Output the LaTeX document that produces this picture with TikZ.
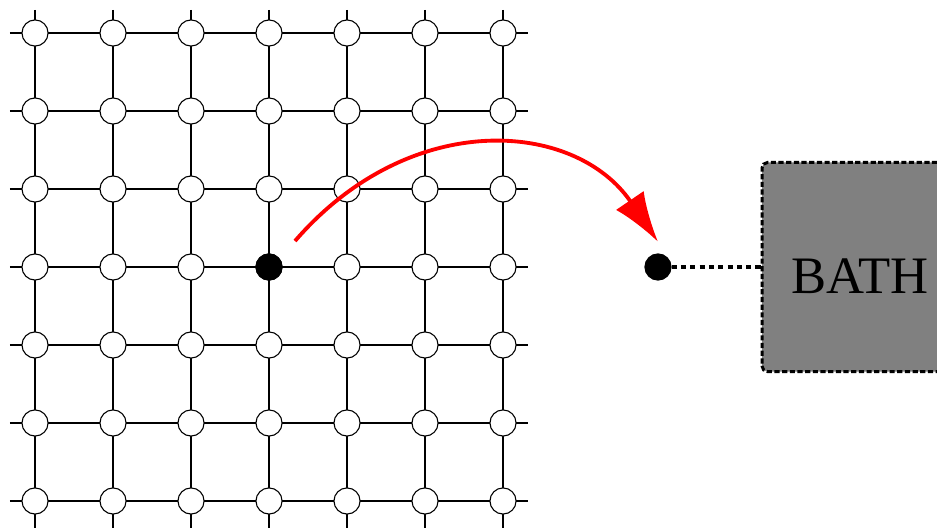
\documentclass[tikz,border=0pt]{standalone}
\usepackage{fontspec}
\setmainfont{Liberation Serif}
\usetikzlibrary{arrows.meta}
\begin{document}
\begin{tikzpicture}[
site/.style={circle, draw=black, fill=#1, line width=0.4pt, minimum size=0.335cm, inner sep=0pt},
bond/.style={line width=0.4pt},
link/.style={line width=1.1pt, dash pattern=on 1.9pt off 1.5pt},
hop/.style={-{Latex[length=0.64cm, width=0.43cm]}, red, line width=1.4pt},
bathbox/.style={draw=black, fill=gray, line width=1.1pt, dash pattern=on 1.9pt off 0.9pt, rounded corners=2pt,
  minimum width=2.513cm, minimum height=2.68cm, inner sep=0pt, text height=19.6pt, text depth=0pt,
  font=\fontsize{19.2}{22}\selectfont}
]
\useasboundingbox (0,0) rectangle (12.013,-6.769);

% --- Lattice bonds ---
\foreach \k in {0,...,6} {
  \coordinate (w\k) at (0.128, {-0.423-\k});
  \coordinate (e\k) at (6.77, {-0.423-\k});
  \coordinate (t\k) at ({0.449+\k}, -0.128);
  \coordinate (b\k) at ({0.449+\k}, -6.769);
  \draw[bond] (w\k) -- (e\k);
  \draw[bond] (t\k) -- (b\k);
}

% --- Lattice sites ---
\foreach \i in {0,...,6}
  \foreach \j in {0,...,6}
    \node[site=white] (s\i\j) at ({0.449+\i}, {-0.423-\j}) {};
\node[site=black] (hole) at (s33) {};

% --- Hop to the bath site ---
\coordinate (start) at (3.782, -3.09);
\coordinate (tip) at (8.436, -3.10);
\draw[hop] (start) .. controls (5.256, -1.385) and (7.372, -1.538) .. (tip);

% --- Bath ---
\node[site=black] (spin) at (8.436, -3.423) {};
\node[bathbox] (bath) at (11.026, -3.423) {BATH};
\draw[link] (spin) -- (bath);

\end{tikzpicture}
\end{document}
